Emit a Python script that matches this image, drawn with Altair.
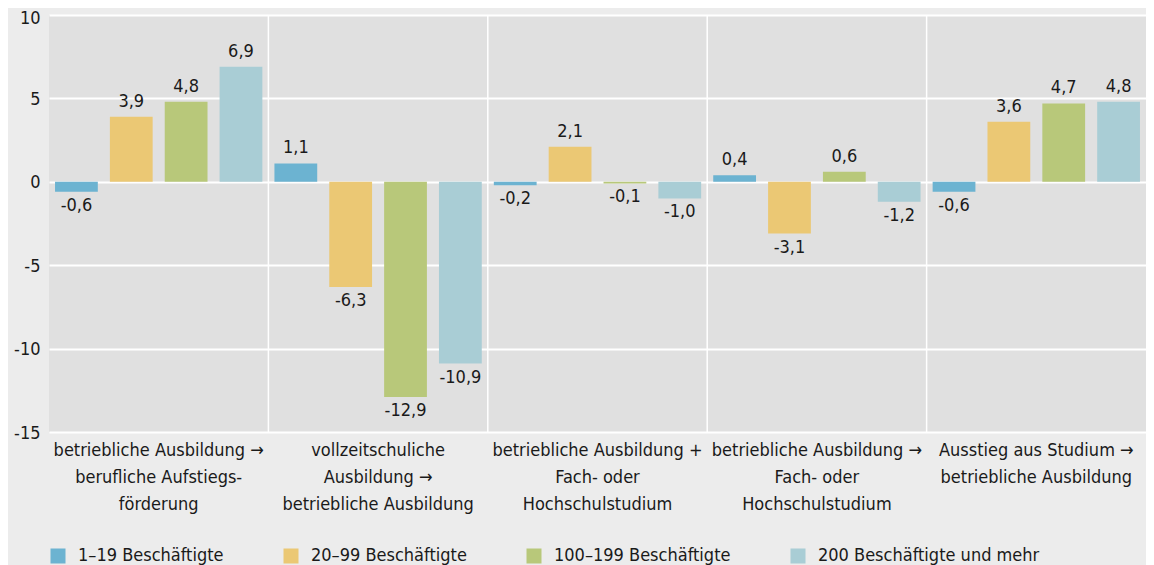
import altair as alt
import pandas as pd

FONT = "'DejaVu Sans Condensed', 'Liberation Sans Narrow', Roboto, sans-serif"

categories = [
    "betriebliche Ausbildung →\nberufliche Aufstiegs-\nförderung",
    "vollzeitschuliche\nAusbildung →\nbetriebliche Ausbildung",
    "betriebliche Ausbildung +\nFach- oder\nHochschulstudium",
    "betriebliche Ausbildung →\nFach- oder\nHochschulstudium",
    "Ausstieg aus Studium →\nbetriebliche Ausbildung",
]
series = ["1–19 Beschäftigte", "20–99 Beschäftigte", "100–199 Beschäftigte", "200 Beschäftigte und mehr"]
vals_1_19 = [-0.6, 1.1, -0.2, 0.4, -0.6]
vals_20_99 = [3.9, -6.3, 2.1, -3.1, 3.6]
vals_100_199 = [4.8, -12.9, -0.1, 0.6, 4.7]
vals_200 = [6.9, -10.9, -1.0, -1.2, 4.8]
colors = ["#6cb3d1", "#ebc874", "#b8c87a", "#a9cdd5"]
y_ticks = [-15, -10, -5, 0, 5, 10]

rows = []
for s, vals in zip(series, [vals_1_19, vals_20_99, vals_100_199, vals_200]):
    for c, v in zip(categories, vals):
        rows.append({"cat": c, "series": s, "value": v})
df = pd.DataFrame(rows)
sep_df = pd.DataFrame({"cat": categories[1:]})

W, H = 1097, 417

xscale = alt.Scale(domain=categories, paddingInner=0, paddingOuter=0)
yscale = alt.Scale(domain=[-15, 10], nice=False)
offscale = alt.Scale(domain=series, paddingInner=0.22, paddingOuter=0.11)

x = alt.X(
    "cat:N", sort=categories, scale=xscale,
    axis=alt.Axis(
        title=None, labelExpr="split(datum.label, '\\n')", labelAngle=0,
        labelAlign="center", labelBaseline="top",
        grid=False, ticks=False, domain=False, labelPadding=9,
        labelLineHeight=27, labelFontSize=18, labelFont=FONT,
        labelColor="#1a1a1a", labelLimit=0, labelOverlap=False,
    ),
)
y = alt.Y(
    "value:Q", scale=yscale,
    axis=alt.Axis(
        values=y_ticks, title=None, gridColor="white", gridWidth=2,
        ticks=False, domain=False, labelExpr="'' + datum.value",
        labelFontSize=18, labelFont=FONT, labelColor="#1a1a1a", labelPadding=9,
        labelOffset={"condition": {"test": "datum.value == 10", "value": 3}, "value": 1},
    ),
)

base = alt.Chart(df).transform_calculate(
    label="replace(replace(format(datum.value, '.1f'), '.', ','), '\u2212', '-')"
)

seps = alt.Chart(sep_df).mark_rule(color="white", strokeWidth=1.5).encode(
    x=alt.X("cat:N", sort=categories, scale=xscale, bandPosition=0),
    y=alt.value(0),
    y2=alt.value(H),
)

bars = base.mark_bar().encode(
    x=x,
    y=y,
    y2=alt.datum(0),
    xOffset=alt.XOffset("series:N", sort=series, scale=offscale),
    color=alt.Color(
        "series:N", sort=series, scale=alt.Scale(domain=series, range=colors),
        legend=alt.Legend(
            title=None, orient="none", legendX=0, legendY=532,
            direction="horizontal", columns=4, symbolType="square",
            symbolSize=225, symbolStrokeWidth=0, symbolOpacity=1,
            labelFontSize=18, labelFont=FONT, labelColor="#1a1a1a",
            columnPadding=58, labelOffset=11, labelLimit=0,
        ),
    ),
)

text_common = dict(fontSize=18, font=FONT, color="#1a1a1a")
pos = base.transform_filter("datum.value >= 0").mark_text(
    baseline="bottom", dy=-6, **text_common
).encode(
    x=alt.X("cat:N", sort=categories, scale=xscale),
    xOffset=alt.XOffset("series:N", sort=series, scale=offscale),
    y=alt.Y("value:Q", scale=yscale),
    text="label:N",
)
neg = base.transform_filter("datum.value < 0").mark_text(
    baseline="top", dy=5, **text_common
).encode(
    x=alt.X("cat:N", sort=categories, scale=xscale),
    xOffset=alt.XOffset("series:N", sort=series, scale=offscale),
    y=alt.Y("value:Q", scale=yscale),
    text="label:N",
)

chart = alt.layer(seps, bars, pos, neg).properties(
    width=W,
    height=H,
    background="#ececec",
    padding={"left": 41, "top": 7, "right": 0, "bottom": 136},
    autosize=alt.AutoSizeParams(type="none"),
).configure_view(fill="#e0e0e0", stroke=None)

chart.save("out.html", embed_options={"renderer": "svg", "actions": False})
